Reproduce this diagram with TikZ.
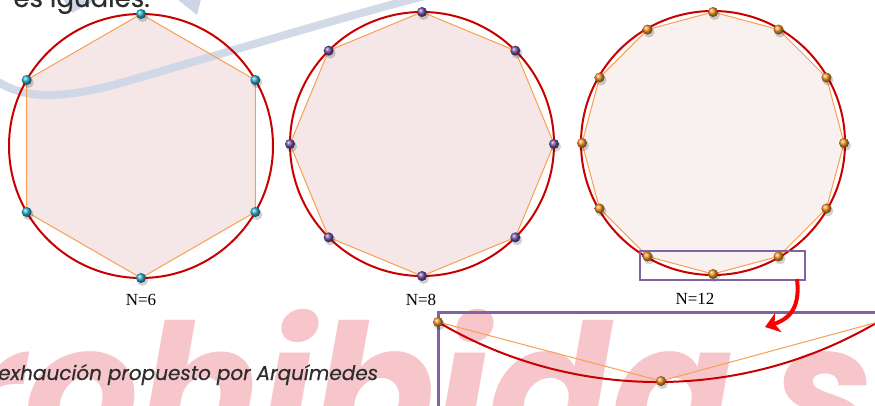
\documentclass[tikz,border=0pt]{standalone}
\usepackage{fontspec}
\setmainfont{Liberation Serif}
\newfontfamily\popfont{Poppins}
\usetikzlibrary{arrows.meta,calc}
\definecolor{circred}{RGB}{200,0,0}
\definecolor{arrred}{RGB}{250,0,0}
\definecolor{edgeor}{RGB}{247,160,80}
\definecolor{fillpk}{RGB}{245,230,232}
\definecolor{fillpkb}{RGB}{249,240,240}
\definecolor{balcyan}{RGB}{40,170,200}
\definecolor{balpurp}{RGB}{110,80,160}
\definecolor{balor}{RGB}{235,140,30}
\definecolor{boxpurp}{RGB}{128,100,162}
\definecolor{wmpink}{RGB}{246,198,203}
\definecolor{bandblue}{RGB}{205,214,230}
\definecolor{txtgray}{RGB}{45,45,45}
\tikzset{
  bigcirc/.style={draw=circred, line width=2pt, circle, minimum size=264pt, inner sep=0pt},
  polyedge/.style={draw=edgeor, line width=1pt, line join=round},
  vball/.style={circle, minimum size=10pt, inner sep=0pt, ball color=#1},
  vshadow/.style={fill=black, opacity=0.18},
  nlabel/.style={font=\fontsize{17}{17}\selectfont, inner sep=0pt},
  zoombox/.style={draw=boxpurp, inner sep=0pt, anchor=north west},
}
\begin{document}
\begin{tikzpicture}[x=1pt,y=-1pt]
\useasboundingbox (0,0) rectangle (875,406);
\clip (0,0) rectangle (875,406);
% watermark
\node[anchor=base west, inner sep=0pt, text=wmpink, font=\popfont\bfseries\itshape\fontsize{180}{180}\selectfont] (wm) at (-165,453) {Prohibida su};
% centres
\coordinate (o1) at (141,146);
\coordinate (o2) at (422,144);
\coordinate (o3) at (713,143);
\foreach \k in {0,...,5}{\coordinate (h\k) at ($(o1)+({-90+60*\k}:132)$);}
\foreach \k in {0,...,7}{\coordinate (g\k) at ($(o2)+({-90+45*\k}:132)$);}
\foreach \k in {0,...,11}{\coordinate (d\k) at ($(o3)+({-90+30*\k}:131)$);}
% fills
\fill[fillpk] (h0) \foreach \k in {1,...,5}{ -- (h\k)} -- cycle;
\fill[fillpk] (g0) \foreach \k in {1,...,7}{ -- (g\k)} -- cycle;
\fill[fillpkb] (d0) \foreach \k in {1,...,11}{ -- (d\k)} -- cycle;
% faded band and wedges
\coordinate (b0) at (-5,80);
\coordinate (b1) at (110,86);
\coordinate (b2) at (440,-8);
\draw[bandblue, line width=8pt, opacity=0.9] (b0) .. controls (25,100) and (60,98) .. (b1) .. controls (220,55) and (330,20) .. (b2);
\fill[bandblue] (63,-1) -- (72,13) -- (98,-1) -- cycle;
\fill[bandblue] (177,-1) -- (197,15) -- (201,-1) -- cycle;
% circles
\node[bigcirc] (c1) at (o1) {};
\node[bigcirc] (c2) at (o2) {};
\node[bigcirc] (c3) at (o3) {};
% polygon edges
\draw[polyedge] (h0) \foreach \k in {1,...,5}{ -- (h\k)} -- cycle;
\draw[polyedge] (g0) \foreach \k in {1,...,7}{ -- (g\k)} -- cycle;
\draw[polyedge] (d0) \foreach \k in {1,...,11}{ -- (d\k)} -- cycle;
% balls
\foreach \k in {0,...,5}{\fill[vshadow] ($(h\k)+(1.5,2.5)$) circle (5.5); \node[vball=balcyan] (bh\k) at (h\k) {};}
\foreach \k in {0,...,7}{\fill[vshadow] ($(g\k)+(1.5,2.5)$) circle (5.5); \node[vball=balpurp] (bg\k) at (g\k) {};}
\foreach \k in {0,...,11}{\fill[vshadow] ($(d\k)+(1.5,2.5)$) circle (5.5); \node[vball=balor] (bd\k) at (d\k) {};}
% labels
\node[nlabel] (l1) at (141,300) {N=6};
\node[nlabel] (l2) at (421,300) {N=8};
\node[nlabel] (l3) at (695,299) {N=12};
% small zoom box
\node[zoombox, line width=1.5pt, minimum width=165pt, minimum height=29pt] (zs) at (639,250) {};
% big zoom box
\node[zoombox, line width=3pt, minimum width=500pt, minimum height=150pt] (zb) at (437,311) {};
\coordinate (zl) at (438,322);
\coordinate (zm) at (661,381);
\coordinate (zr) at (878,322);
\draw[circred, line width=2pt] (zl) arc[start angle=120.53, end angle=59.47, radius=433];
\draw[polyedge] (zl) -- (zm) -- (zr);
\fill[vshadow] ($(zl)+(1.5,2.5)$) circle (5.5);
\node[vball=balor] (bzl) at (zl) {};
\fill[vshadow] ($(zm)+(1.5,2.5)$) circle (5.5);
\node[vball=balor] (bzm) at (zm) {};
% red arrow
\coordinate (a1) at (797,279);
\coordinate (a2) at (765,327);
\draw[arrred, line width=4pt, -{Stealth[length=14pt,width=20pt,inset=4pt]}] (a1) .. controls (800,305) and (792,318) .. (a2);
% texts
\node[anchor=base west, inner sep=0pt, text=txtgray, font=\popfont\itshape\addfontfeature{FakeBold=0.4}\fontsize{20}{20}\selectfont] (bt) at (-2,380) {exhaución propuesto por Arquímedes};
\node[anchor=base east, inner sep=0pt, text=txtgray, font=\popfont\addfontfeature{FakeBold=0.4}\fontsize{26}{26}\selectfont] (tt) at (150,7) {es iguales:};
\end{tikzpicture}
\end{document}
